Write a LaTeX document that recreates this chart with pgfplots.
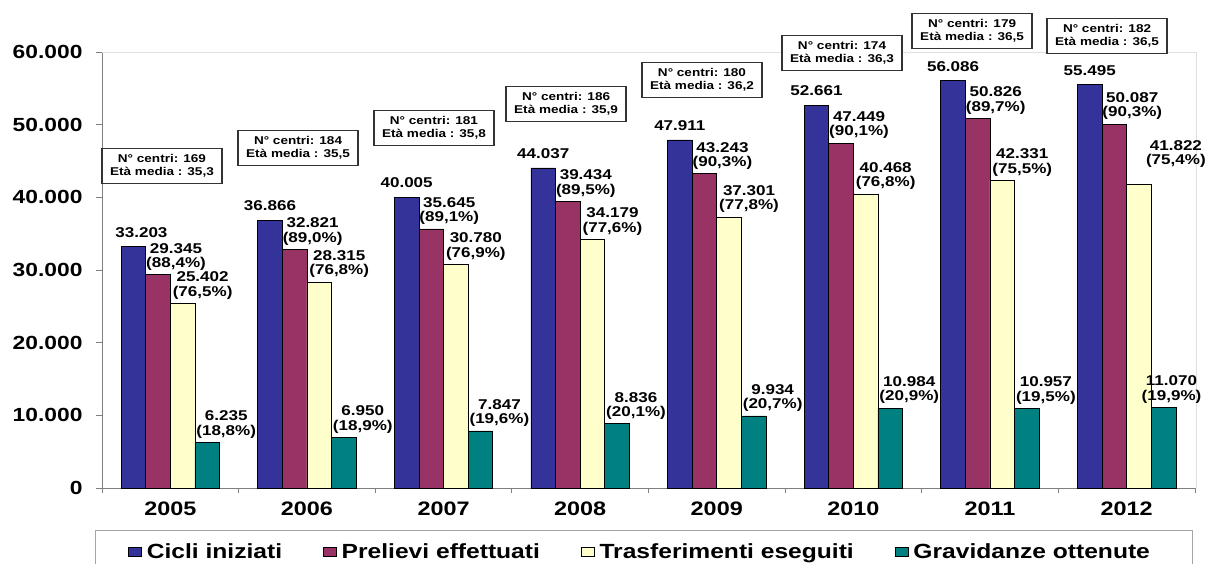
\documentclass[border=0pt]{standalone}
\usepackage{pgfplots}
\pgfplotsset{compat=1.18}
\usepackage{fontspec}
\setmainfont{Liberation Sans}[FakeStretch=1.2]
\definecolor{cblue}{RGB}{51,51,153}
\definecolor{cmaroon}{RGB}{153,51,102}
\definecolor{cyellow}{RGB}{255,255,204}
\definecolor{cteal}{RGB}{0,128,128}
\newcommand\tickfont{\bfseries\fontsize{19}{19}\selectfont}
\newcommand\yearfont{\bfseries\fontsize{19.5}{19.5}\selectfont}
\newcommand\legfont{\bfseries\fontsize{20.5}{20.5}\selectfont}
\newcommand\datafont{\bfseries\fontsize{14.2}{14.5}\selectfont}
\newcommand\boxfont{\bfseries\fontsize{11.3}{13}\selectfont}
\begin{document}
\begin{tikzpicture}
\useasboundingbox (0,0) rectangle (1208pt,564pt);
\begin{axis}[
  at={(102pt,76pt)}, anchor=south west,
  scale only axis, width=1093pt, height=436pt,
  xmin=-0.5, xmax=7.5, ymin=0, ymax=60000,
  clip=false,
  axis x line*=bottom, axis y line*=left,
  axis line style={black!50, line width=0.8pt},
  xtick={0,...,7},
  xticklabels={2005,2006,2007,2008,2009,2010,2011,2012},
  minor xtick={-0.5,0.5,...,7.5},
  major x tick style={draw=none},
  minor x tick style={black!50, line width=0.8pt},
  minor tick length=5pt,
  ytick={0,10000,...,60000},
  ytick style={black!50, line width=0.8pt},
  major tick length=6pt,
  tick align=outside,
  scaled y ticks=false,
  /pgf/number format/.cd, 1000 sep={.}, assume math mode=true,
  /pgfplots/.cd,
  yticklabel style={font=\tickfont, text=black, xshift=-10pt},
  xticklabel style={font=\yearfont, text=black, yshift=-4pt},
  ybar, bar width=24.6pt,
  point meta=explicit symbolic,
  nodes near coords,
  every node near coord/.append style={font=\datafont, align=center, anchor=south, inner sep=0pt, text=black},
  legend image code/.code={\draw[#1, draw=black, line width=0.6pt] (0pt,-4.5pt) rectangle (13pt,4.5pt);},
  legend style={draw=none, fill=none, at={(axis description cs:0.0238,-0.1468)}, anchor=west,
    legend columns=4, inner sep=0pt, font=\legfont,
    nodes={inner sep=0pt},
    /tikz/every odd column/.append style={column sep=5pt},
    /tikz/every even column/.append style={column sep=41pt}},
]
% Cicli iniziati
\addplot[fill=cblue, draw=black, line width=0.6pt, bar shift=-36.9pt,
  every node near coord/.append style={xshift=0pt, yshift=9pt}]
  coordinates {(1,36866)[36.866] (2,40005)[40.005] (3,44037)[44.037]
               (4,47911)[47.911] (5,52661)[52.661] (6,56086)[56.086] (7,55495)[55.495]};
% Prelievi effettuati
\addplot[fill=cmaroon, draw=black, line width=0.6pt, bar shift=-12.3pt,
  every node near coord/.append style={xshift=18pt, yshift=4pt}]
  coordinates {(0,29345)[{29.345\\(88,4\%)}] (1,32821)[{32.821\\(89,0\%)}] (2,35645)[{35.645\\(89,1\%)}]
               (3,39434)[{39.434\\(89,5\%)}] (4,43243)[{43.243\\(90,3\%)}] (5,47449)[{47.449\\(90,1\%)}]
               (6,50826)[{50.826\\(89,7\%)}] (7,50087)[{50.087\\(90,3\%)}]};
% Trasferimenti eseguiti
\addplot[fill=cyellow, draw=black, line width=0.6pt, bar shift=12.3pt,
  every node near coord/.append style={xshift=20pt, yshift=4pt}]
  coordinates {(0,25402)[{25.402\\(76,5\%)}] (1,28315)[{28.315\\(76,8\%)}] (2,30780)[{30.780\\(76,9\%)}]
               (3,34179)[{34.179\\(77,6\%)}] (4,37301)[{37.301\\(77,8\%)}] (5,40468)[{40.468\\(76,8\%)}]
               (6,42331)[{42.331\\(75,5\%)}]};
% Gravidanze ottenute
\addplot[fill=cteal, draw=black, line width=0.6pt, bar shift=36.9pt,
  every node near coord/.append style={xshift=19pt, yshift=4pt}]
  coordinates {(0,6235)[{6.235\\(18,8\%)}] (1,6950)[{6.950\\(18,9\%)}] (2,7847)[{7.847\\(19,6\%)}]
               (3,8836)[{8.836\\(20,1\%)}] (4,9934)[{9.934\\(20,7\%)}] (5,10984)[{10.984\\(20,9\%)}]
               (6,10957)[{10.957\\(19,5\%)}]};
% points whose labels sit differently in the reference
\addplot[forget plot, fill=cblue, draw=black, line width=0.6pt, bar shift=-36.9pt,
  every node near coord/.append style={xshift=8pt, yshift=9pt}]
  coordinates {(0,33203)[33.203]};
\addplot[forget plot, fill=cyellow, draw=black, line width=0.6pt, bar shift=12.3pt,
  every node near coord/.append style={xshift=37pt, yshift=16pt}]
  coordinates {(7,41822)[{41.822\\(75,4\%)}]};
\addplot[forget plot, fill=cteal, draw=black, line width=0.6pt, bar shift=36.9pt,
  every node near coord/.append style={xshift=8pt, yshift=4pt}]
  coordinates {(7,11070)[{11.070\\(19,9\%)}]};
\legend{Cicli iniziati, Prelievi effettuati, Trasferimenti eseguiti, Gravidanze ottenute}
% faint plot-area border
\draw[black!12, line width=0.8pt] (rel axis cs:0,1) -- (rel axis cs:1.0018,1) -- (rel axis cs:1.0018,0);
% legend frame
\draw[black!35, line width=1pt] (axis description cs:-0.0055,-0.35) rectangle (axis description cs:0.9982,-0.0986);
% annotation boxes
\tikzset{cbox/.style={draw=black!80, line width=1.2pt, fill=white, minimum width=120pt, minimum height=35pt, align=center, font=\boxfont, inner sep=0pt}}
\node[cbox] at (axis cs:-0.061,44311) {N° centri: 169\\Età media : 35,3};
\node[cbox] at (axis cs:0.935,46789) {N° centri: 184\\Età media : 35,5};
\node[cbox] at (axis cs:1.930,49541) {N° centri: 181\\Età media : 35,8};
\node[cbox] at (axis cs:2.897,52844) {N° centri: 186\\Età media : 35,9};
\node[cbox] at (axis cs:3.892,56147) {N° centri: 180\\Età media : 36,2};
\node[cbox] at (axis cs:4.917,59862) {N° centri: 174\\Età media : 36,3};
\node[cbox] at (axis cs:5.869,62890) {N° centri: 179\\Età media : 36,5};
\node[cbox] at (axis cs:6.857,62202) {N° centri: 182\\Età media : 36,5};
\end{axis}
\end{tikzpicture}
\end{document}
